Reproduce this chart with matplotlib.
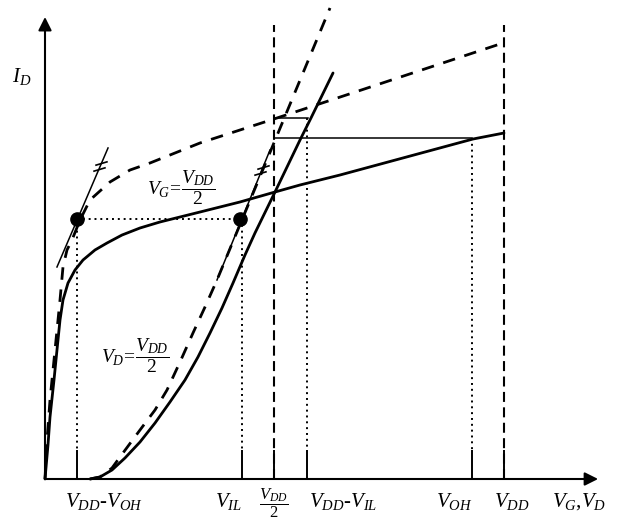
import matplotlib
matplotlib.use("Agg")
import matplotlib.pyplot as plt
from matplotlib.path import Path
import numpy as np

plt.rcParams['font.family'] = ['Liberation Serif', 'DejaVu Serif']
plt.rcParams['mathtext.fontset'] = 'custom'
plt.rcParams['mathtext.it'] = 'Liberation Serif:italic'
plt.rcParams['mathtext.rm'] = 'Liberation Serif'
plt.rcParams['mathtext.bf'] = 'Liberation Serif:bold'

# ---- data (V normalised to VDD = 1, ID in arbitrary units) ----
VDD = 1.0
V_OH = 0.93
V_IL = 0.43

# ID vs VD at VG = VDD/2 (real, solid)
vd_solid = [0, .0065, .0109, .0196, .0261, .0327, .0392, .0501, .0654, .0828, .1089,
            .1351, .1678, .2070, .2505, .3377, .4248, .5011, .5556, .6427, .9325, 1.0]
id_vd_solid = [0, 7.36, 13.42, 21.43, 27.92, 34.42, 38.74, 42.42, 45.24, 47.40, 49.57,
               51.08, 52.81, 54.33, 55.63, 57.79, 59.96, 62.12, 63.64, 65.80, 73.59, 74.89]

# ID vs VD at VG = VDD/2 (approximation, dashed)
vd_dash = [0, .0044, .0109, .0218, .0327, .0392, .0479, .0588, .0763, .0980, .1416,
           .1852, .2288, .3377, .5054, .9978]
id_vd_dash = [0, 8.44, 17.10, 27.92, 38.74, 45.89, 49.57, 51.73, 56.06, 60.39, 64.29,
              66.88, 68.40, 72.73, 78.14, 94.37]

# ID vs VG at VD = VDD/2 (real, solid)
vg_solid = [.0980, .1198, .1460, .1743, .2070, .2397, .2723, .3050, .3333, .3595, .3856,
            .4096, .4357, .4575, .5011, .5556, .5795, .6275]
id_vg_solid = [0, .43, 1.95, 4.55, 8.01, 12.12, 16.67, 21.43, 26.41, 31.60, 37.01,
               42.42, 48.48, 53.25, 62.12, 73.38, 78.14, 87.88]

# ID vs VG at VD = VDD/2 (approximation, dashed)
vg_dash = [.0980, .1198, .1460, .1634, .2070, .2397, .2658, .2941, .3224, .3486, .3747, .6209]
id_vg_dash = [0, .43, 2.38, 4.76, 10.61, 14.94, 19.26, 25.32, 31.60, 37.23, 43.07, 101.95]

# unity-gain tangent lines (parallel)
tan1_x = [.0261, .1373]
tan1_y = [45.89, 71.65]
tan2_x = [.3747, .4902]
tan2_y = [43.07, 71.21]

# operating points (dots)
dot_x = [.0697, .4248]
dot_y = [56.2, 56.2]

# levels of the horizontal construction lines
I_high = 78.1   # level through VDD - VIL
I_mid = 73.8    # level through VOH

tick_pos = [VDD - V_OH, V_IL, VDD / 2, VDD - V_IL, V_OH, VDD]
tick_labels = [r'$V_{DD}$-$V_{OH}$', r'$V_{IL}$', r'$\dfrac{V_{DD}}{2}$',
               r'$V_{DD}$-$V_{IL}$', r'$V_{OH}$', r'$V_{DD}$']

# ---- figure ----
fig = plt.figure(figsize=(6.24, 5.23), dpi=100)
ax = fig.add_axes([0, 0, 1, 1])
ax.set_xlim(-45 / 459, 579 / 459)
ax.set_ylim(-44 / 4.62, 479 / 4.62)
ax.axis('off')

K = 'black'
thick = 2.0
dash_pat = (0, (4.5, 3.5))

# axes with arrows
ax.annotate('', xy=(1.205, 0), xytext=(0, 0),
            arrowprops=dict(arrowstyle='-|>', lw=1.5, color=K, mutation_scale=20,
                            shrinkA=0, shrinkB=0))
ax.annotate('', xy=(0, 100), xytext=(0, 0),
            arrowprops=dict(arrowstyle='-|>', lw=1.5, color=K, mutation_scale=20,
                            shrinkA=0, shrinkB=0))

# vertical dashed lines at VDD/2 and VDD
ax.vlines([VDD / 2, VDD], 0, 98.3, colors=K, lw=1.5, linestyles=[(0, (4.8, 2.6))])

# curves
ax.plot(vd_solid, id_vd_solid, color=K, lw=thick, solid_capstyle='round',
        solid_joinstyle='round')
ax.plot(vd_dash, id_vd_dash, color=K, lw=thick, ls=dash_pat)
ax.plot(vg_solid, id_vg_solid, color=K, lw=thick, solid_capstyle='round',
        solid_joinstyle='round')
ax.plot(vg_dash, id_vg_dash, color=K, lw=thick, ls=dash_pat)

# tangent lines with tick marks
slash = Path([(-1, -0.3), (1, 0.3)], [Path.MOVETO, Path.LINETO])
for tx, ty in ((tan1_x, tan1_y), (tan2_x, tan2_y)):
    ax.plot(tx, ty, color=K, lw=1.1)
    fr = np.array([0.82, 0.87])
    ax.plot(tx[0] + fr * (tx[1] - tx[0]), ty[0] + fr * (ty[1] - ty[0]), ls='none',
            marker=slash, ms=9, mec=K, mew=1.2)

# dots and dotted construction lines
dot_style = dict(color=K, lw=1.4, ls=(0, (1, 2)))
ax.plot(dot_x, dot_y, **dot_style)
tick_top = 6.28
ax.plot([VDD - V_OH] * 2, [dot_y[0], tick_top], **dot_style)
ax.plot([V_IL] * 2, [dot_y[1], tick_top], **dot_style)
ax.plot([VDD - V_IL] * 2, [I_high, tick_top], **dot_style)
ax.plot([V_OH] * 2, [I_mid, tick_top], **dot_style)
ax.plot(dot_x, dot_y, ls='none', marker='o', ms=9.5, color=K)

# thin horizontal construction lines
ax.plot([VDD / 2, VDD - V_IL + 0.003], [I_high, I_high], color=K, lw=1.1)
ax.plot([VDD / 2, V_OH], [I_mid, I_mid], color=K, lw=1.1)

# tick marks
ax.vlines(tick_pos, 0, tick_top, colors=K, lw=1.4)

# tick labels
fs = 15
label_pos = [(.0436, 'left', fs, -2.6), (.429, 'right', fs, -2.6), (.499, 'center', 12, -1.5),
             (.575, 'left', fs, -2.6), (.852, 'left', fs, -2.6), (.978, 'left', fs, -2.6)]
for (lx, ha, size, ly), lab in zip(label_pos, tick_labels):
    ax.text(lx, ly, lab, ha=ha, va='top', fontsize=size)

ax.text(1.105, -2.6, r'$V_G$,$V_D$', ha='left', va='top', fontsize=fs)
ax.text(-0.050, 87.2, r'$I_D$', ha='center', va='center', fontsize=fs)
ax.text(0.296, 63.0, r'$V_G\!=\!\dfrac{V_{DD}}{2}$', ha='center', va='center', fontsize=14)
ax.text(0.196, 26.6, r'$V_D\!=\!\dfrac{V_{DD}}{2}$', ha='center', va='center', fontsize=14)

fig.savefig('out.png', dpi=100)
